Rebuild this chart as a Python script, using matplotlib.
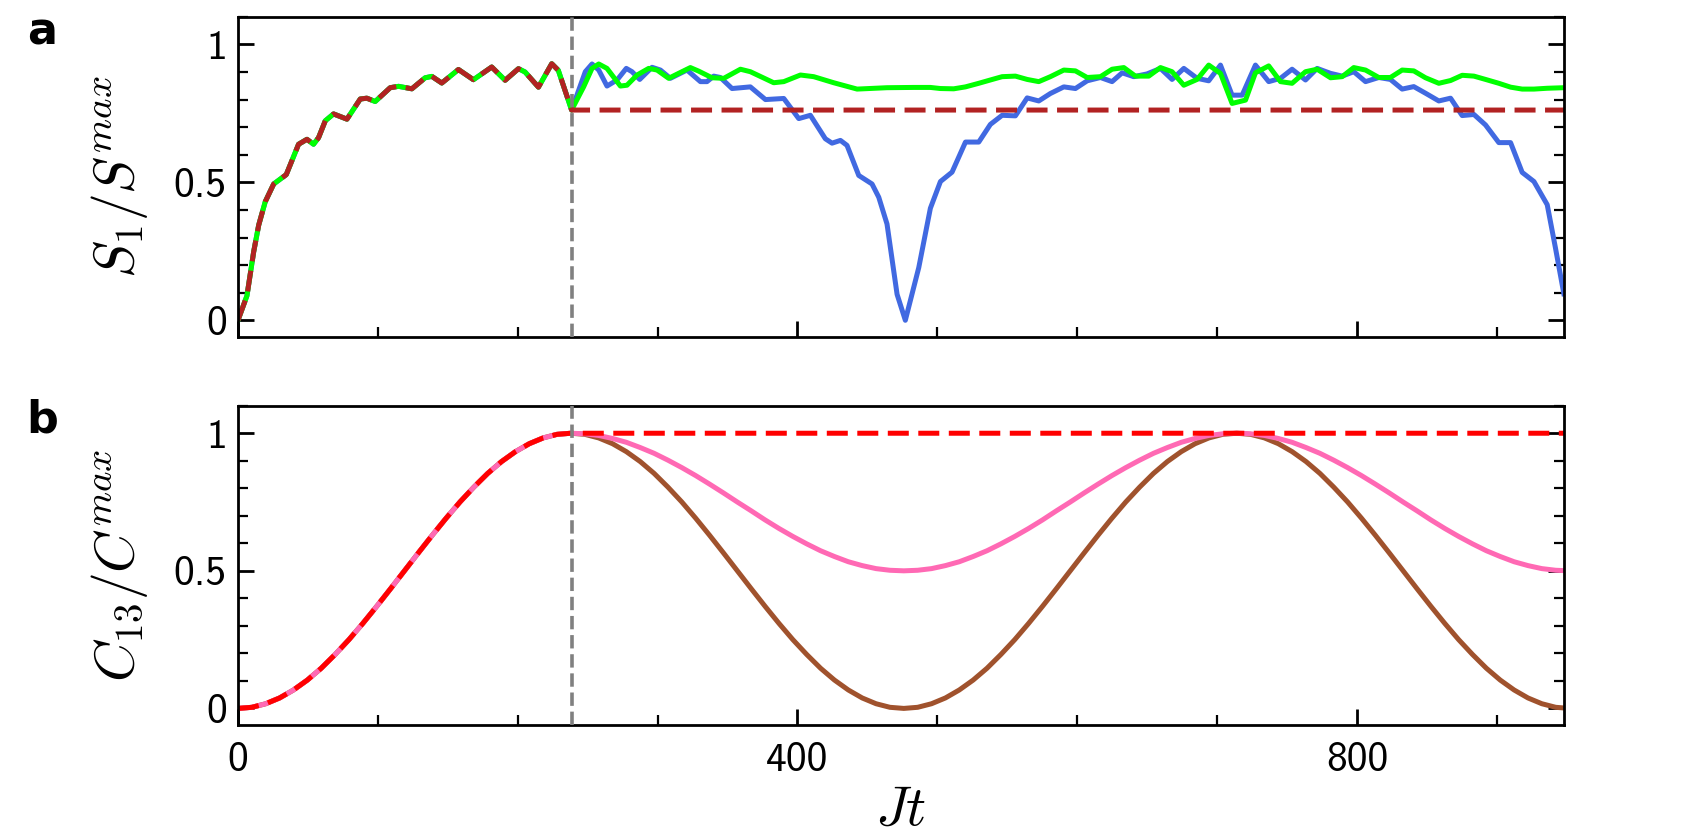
import matplotlib
matplotlib.use('Agg')
import matplotlib.pyplot as plt
import numpy as np
from matplotlib.ticker import MultipleLocator

plt.rcParams['mathtext.fontset'] = 'cm'
plt.rcParams['font.family'] = ['DejaVu Sans']

# time where the protocol switches (grey dashed marker)
jt_switch = 238.5
jt_end = 948

# panel a: shared rise before the switch
jt_early = [0, 6.4, 11.2, 14.8, 19.5, 25.5, 34.5, 43.3, 49.3, 54.0, 57.6, 62.4, 68.3, 77.9,
            87.4, 92.1, 98.1, 108.8, 114.8, 124.3, 133.8, 138.6, 145.7, 157.6, 168.3, 181.4,
            191.0, 200.5, 205.2, 214.8, 224.3, 229.0, 238.5]
s_early = [0.0, 0.089, 0.248, 0.345, 0.430, 0.494, 0.528, 0.638, 0.656, 0.638, 0.662, 0.723, 0.748,
           0.729, 0.802, 0.805, 0.793, 0.843, 0.848, 0.839, 0.879, 0.884, 0.860, 0.909, 0.872,
           0.918, 0.870, 0.912, 0.900, 0.845, 0.930, 0.906, 0.762]
s_hold = 0.762

# panel a: blue curve after the switch
jt_blue = [248.3, 253.1, 257.9, 263.8, 271.0, 277.6, 281.7, 287.2, 296.0, 302.0, 309.1, 321.0,
           330.6, 335.3, 340.1, 344.9, 353.2, 366.3, 377.1, 390.2, 400.9, 409.2, 419.9, 424.7,
           430.7, 435.4, 443.8, 453.3, 458.1, 464.0, 471.2, 477.1, 486.7, 495.0, 502.2, 510.5,
           520.1, 529.6, 537.9, 546.3, 555.8, 564.2, 572.5, 580.8, 590.4, 598.7, 607.1, 616.6,
           624.9, 632.1, 640.4, 649.9, 659.5, 667.8, 676.2, 685.7, 694.0, 702.4, 710.7, 717.9,
           727.4, 736.9, 745.3, 753.6, 763.2, 771.5, 781.1, 789.4, 797.7, 806.1, 815.6, 823.9,
           832.3, 840.6, 849.0, 858.5, 866.9, 875.2, 883.6, 891.9, 901.4, 909.8, 918.1, 926.5,
           936.0, 941.9, 947.9]
s_blue = [0.901, 0.929, 0.907, 0.849, 0.871, 0.913, 0.901, 0.873, 0.917, 0.907, 0.877, 0.907,
          0.865, 0.865, 0.885, 0.880, 0.840, 0.846, 0.800, 0.804, 0.731, 0.743, 0.658, 0.642,
          0.652, 0.634, 0.525, 0.494, 0.446, 0.349, 0.094, 0.000, 0.191, 0.406, 0.503, 0.537,
          0.646, 0.646, 0.710, 0.743, 0.741, 0.806, 0.795, 0.822, 0.846, 0.840, 0.868, 0.880,
          0.865, 0.897, 0.883, 0.893, 0.913, 0.873, 0.913, 0.877, 0.868, 0.925, 0.816, 0.816,
          0.925, 0.865, 0.877, 0.910, 0.871, 0.913, 0.895, 0.885, 0.901, 0.865, 0.880, 0.873,
          0.838, 0.847, 0.823, 0.795, 0.805, 0.742, 0.746, 0.708, 0.644, 0.644, 0.536, 0.503,
          0.419, 0.262, 0.096]

# panel a: green curve after the switch
jt_green = [247.1, 253.1, 257.9, 263.8, 273.4, 278.1, 285.3, 293.6, 299.6, 307.9, 315.0, 323.4,
            329.4, 338.9, 347.3, 359.2, 366.3, 383.0, 390.2, 402.1, 411.6, 425.9, 442.6, 464.0,
            483.1, 495.0, 502.2, 511.7, 520.1, 529.6, 537.9, 546.3, 555.8, 564.2, 572.5, 580.8,
            590.4, 598.7, 607.1, 616.6, 624.9, 633.3, 641.6, 651.1, 659.5, 667.8, 676.2, 685.7,
            694.0, 702.4, 710.7, 720.3, 727.4, 736.9, 745.3, 753.6, 763.2, 771.5, 781.1, 789.4,
            797.7, 806.1, 815.6, 823.9, 832.3, 840.6, 849.0, 858.5, 866.9, 875.2, 883.6, 891.9,
            901.4, 909.8, 918.1, 926.5, 936.0, 947.9]
s_green = [0.846, 0.913, 0.929, 0.913, 0.849, 0.852, 0.889, 0.913, 0.907, 0.877, 0.895, 0.916,
           0.903, 0.879, 0.877, 0.910, 0.901, 0.861, 0.865, 0.889, 0.883, 0.861, 0.838, 0.843,
           0.844, 0.844, 0.840, 0.839, 0.846, 0.859, 0.871, 0.883, 0.885, 0.873, 0.865, 0.883,
           0.907, 0.904, 0.880, 0.883, 0.910, 0.916, 0.885, 0.885, 0.916, 0.901, 0.852, 0.873,
           0.925, 0.895, 0.786, 0.798, 0.897, 0.922, 0.865, 0.859, 0.901, 0.910, 0.879, 0.883,
           0.916, 0.907, 0.880, 0.880, 0.907, 0.904, 0.879, 0.859, 0.869, 0.888, 0.885, 0.873,
           0.859, 0.845, 0.838, 0.838, 0.841, 0.843]

# panel b: smooth correlation curves, every ~9.9 in Jt
jt_c = np.linspace(0, 952, 97)
c_brown = [0.0, 0.004, 0.017, 0.038, 0.067, 0.103, 0.146, 0.196, 0.25, 0.309, 0.371, 0.435,
           0.5, 0.565, 0.629, 0.691, 0.75, 0.804, 0.854, 0.897, 0.933, 0.962, 0.983, 0.996,
           1.0, 0.996, 0.983, 0.962, 0.933, 0.897, 0.854, 0.804, 0.75, 0.691, 0.629, 0.565,
           0.5, 0.435, 0.371, 0.309, 0.25, 0.196, 0.146, 0.103, 0.067, 0.038, 0.017, 0.004,
           0.0, 0.004, 0.017, 0.038, 0.067, 0.103, 0.146, 0.196, 0.25, 0.309, 0.371, 0.435,
           0.5, 0.565, 0.629, 0.691, 0.75, 0.804, 0.854, 0.897, 0.933, 0.962, 0.983, 0.996,
           1.0, 0.996, 0.983, 0.962, 0.933, 0.897, 0.854, 0.804, 0.75, 0.691, 0.629, 0.565,
           0.5, 0.435, 0.371, 0.309, 0.25, 0.196, 0.146, 0.103, 0.067, 0.038, 0.017, 0.004,
           0.0]
c_pink = [0.0, 0.004, 0.017, 0.038, 0.067, 0.103, 0.146, 0.196, 0.25, 0.309, 0.371, 0.435,
          0.5, 0.565, 0.629, 0.691, 0.75, 0.804, 0.854, 0.897, 0.933, 0.962, 0.983, 0.996,
          1.0, 0.998, 0.992, 0.981, 0.967, 0.948, 0.927, 0.902, 0.875, 0.846, 0.815, 0.783,
          0.75, 0.718, 0.685, 0.654, 0.625, 0.598, 0.573, 0.552, 0.533, 0.519, 0.508, 0.502,
          0.5, 0.502, 0.508, 0.519, 0.533, 0.552, 0.573, 0.598, 0.625, 0.654, 0.685, 0.718,
          0.75, 0.783, 0.815, 0.846, 0.875, 0.902, 0.927, 0.948, 0.967, 0.981, 0.992, 0.998,
          1.0, 0.998, 0.992, 0.981, 0.967, 0.948, 0.927, 0.902, 0.875, 0.846, 0.815, 0.783,
          0.75, 0.718, 0.685, 0.654, 0.625, 0.598, 0.573, 0.552, 0.533, 0.519, 0.508, 0.502,
          0.5]
c_hold = 1.0
n_rise = 25  # samples up to the switch

# ticks and labels
x_ticks = [0, 400, 800]
x_tick_labels = ['0', '400', '800']
y_ticks = [0, 0.5, 1]
y_tick_labels = ['0', '0.5', '1']

LW = 1.8
DASH = (4.2, 1.9)


# common axis styling for both panels
def style_axis(ax, show_xlabels):
    ax.set_xlim(0, jt_end)
    ax.set_ylim(-0.06, 1.1)
    ax.set_xticks(x_ticks)
    ax.xaxis.set_minor_locator(MultipleLocator(100))
    ax.set_yticks(y_ticks)
    ax.yaxis.set_minor_locator(MultipleLocator(0.1))
    ax.set_yticklabels(y_tick_labels, fontsize=15, fontfamily='cmss10')
    if show_xlabels:
        ax.set_xticklabels(x_tick_labels, fontsize=15, fontfamily='cmss10')
    else:
        ax.set_xticklabels([])
    ax.tick_params(which='both', direction='in', left=True, right=True, top=False, bottom=True)
    ax.tick_params(which='major', length=5.8, width=1.0)
    ax.tick_params(which='minor', length=3.6, width=0.8)
    ax.tick_params(axis='x', pad=6)
    ax.tick_params(axis='y', pad=4)
    for sp in ax.spines.values():
        sp.set_linewidth(1.0)
    ax.axvline(jt_switch, color='gray', lw=1.3, ls='--', zorder=5)


fig = plt.figure(figsize=(8.5, 4.2), dpi=200)
ax_a = fig.add_axes([0.140, 0.599, 0.780, 0.381])
ax_b = fig.add_axes([0.140, 0.137, 0.780, 0.380])

# panel a
ax_a.plot(jt_early + jt_blue, s_early + s_blue, color='royalblue', lw=LW)
ax_a.plot(jt_early + jt_green, s_early + s_green, color='lime', lw=LW)
ax_a.plot(jt_early + [jt_end], s_early + [s_hold], color='firebrick', lw=LW, dashes=DASH)
style_axis(ax_a, False)
ax_a.set_ylabel(r'$S_1/S^{max}$', fontsize=20)
ax_a.yaxis.set_label_coords(-0.066, 0.5)

# panel b
ax_b.plot(jt_c, c_brown, color='sienna', lw=LW)
ax_b.plot(jt_c, c_pink, color='hotpink', lw=LW)
ax_b.plot(list(jt_c[:n_rise]) + [jt_end], c_pink[:n_rise] + [c_hold], color='red', lw=LW,
          dashes=DASH)
style_axis(ax_b, True)
ax_b.set_ylabel(r'$C_{13}/C^{max}$', fontsize=20)
ax_b.yaxis.set_label_coords(-0.066, 0.5)
ax_b.set_xlabel(r'$Jt$', fontsize=20, labelpad=1.5)

fig.text(42 / 1700, 1 - 32 / 840, 'a', fontsize=16, fontweight='bold', ha='center', va='center')
fig.text(42 / 1700, 1 - 420 / 840, 'b', fontsize=16, fontweight='bold', ha='center', va='center')

fig.savefig('out.png', dpi=200)
